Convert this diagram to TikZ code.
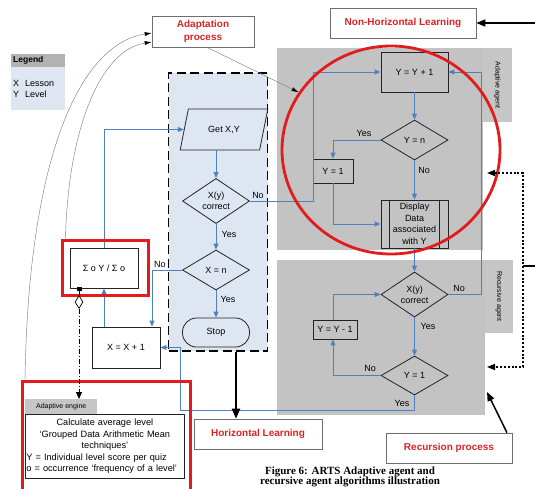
\documentclass[tikz,border=0pt]{standalone}
\usepackage{fontspec}
\setmainfont{Liberation Sans}
\newfontfamily\capfont{Liberation Serif}
\usetikzlibrary{arrows.meta,shapes.geometric,calc}

\definecolor{flowblue}{RGB}{79,129,189}
\definecolor{zonegray}{RGB}{195,195,195}
\definecolor{tabgray}{RGB}{198,198,198}
\definecolor{headgray}{RGB}{178,178,178}
\definecolor{paleblue}{RGB}{222,230,242}
\definecolor{hilite}{RGB}{226,28,28}
\definecolor{titlered}{RGB}{218,35,40}
\definecolor{edgegray}{RGB}{110,110,110}
\definecolor{ink}{RGB}{35,35,35}

\begin{document}
\begin{tikzpicture}[x=1pt,y=-1pt,
  font=\fontsize{9}{11}\selectfont,
  box/.style={draw=ink, line width=0.8pt, rectangle, inner sep=1pt, align=center},
  decision/.style={draw=ink, line width=0.8pt, diamond, inner sep=0pt,
    minimum width=67pt, minimum height=40pt, align=center},
  title/.style={draw=edgegray, fill=white, line width=0.6pt, text=titlered,
    inner sep=1pt, font=\fontsize{10}{13}\selectfont\bfseries, align=center},
  zone/.style={fill=zonegray, draw=none, rectangle, inner sep=0pt},
  tab/.style={fill=tabgray, draw=none, rectangle, inner sep=0pt,
    font=\fontsize{7}{8}\selectfont},
  flow/.style={draw=flowblue, line width=0.9pt, -{Triangle[length=6pt,width=5pt]}},
  lbl/.style={font=\fontsize{9}{10}\selectfont, inner sep=1pt},
  hilitebox/.style={draw=hilite, line width=3pt, rectangle, inner sep=0pt},
  faint/.style={draw=gray, line width=0.45pt, -{Latex[length=7pt,width=4pt,color=black]}},
  bold arrow/.style={draw=black, -{Triangle[length=9pt,width=7pt]}},
  linkdots/.style={draw=black, line width=1.5pt, dash pattern=on 2pt off 1.8pt,
    {Triangle[length=8pt,width=6pt]}-{Triangle[length=8pt,width=6pt]}}
]
\useasboundingbox (0,0) rectangle (535,488);

% agent zones with their side tabs
\node[zone, minimum width=206pt, minimum height=202pt] (adz) at (380,149) {};
\node[tab, rotate=-90, minimum width=74pt, minimum height=29pt] (adtab) at (497.5,85) {Adaptive agent};
\node[zone, minimum width=208pt, minimum height=155pt] (recz) at (381,337.5) {};
\node[tab, rotate=-90, minimum width=73pt, minimum height=28pt] (rectab) at (499,296.5) {Recursive agent};

% adaptation zone (dashed)
\node[draw=black, line width=1.8pt, dash pattern=on 9pt off 4.5pt, fill=paleblue,
  minimum width=99pt, minimum height=278pt, inner sep=0pt] (adzone) at (218,212) {};

% legend
\node[fill=headgray, anchor=north west, text width=50pt, inner xsep=2pt, inner ysep=0pt,
  minimum height=13pt, align=left, font=\fontsize{8.5}{9}\selectfont\bfseries] (leghead) at (11,54) {Legend};
\node[fill=paleblue, anchor=north west, text width=50pt, inner xsep=2pt, inner ysep=0pt,
  minimum height=43pt, align=left] (legbody) at (11,67) {X\ \ Lesson\\Y\ \ Level};

% titles
\node[title, minimum width=102pt, minimum height=31pt] (adapt) at (203,31.5) {Adaptation\\process};
\node[title, minimum width=146pt, minimum height=30pt] (nonh) at (403,23) {Non-Horizontal Learning};
\node[title, minimum width=128pt, minimum height=30pt] (horiz) at (258,434) {Horizontal Learning};
\node[title, minimum width=126pt, minimum height=30pt] (recur) at (449,448) {Recursion process};

% lesson loop
\node[draw=ink, line width=0.8pt, trapezium, trapezium left angle=64, trapezium right angle=116,
  trapezium stretches=true, minimum width=88pt, minimum height=41pt, inner sep=0pt] (getxy) at (224,129.5) {Get X,Y};
\node[decision] (xyc1) at (216,201) {X(y)\\correct};
\node[decision] (xn) at (216,270) {X = n};
\node[draw=ink, line width=0.8pt, rectangle, rounded corners=14pt, minimum width=67pt,
  minimum height=29pt] (stop) at (216,332.5) {Stop};
\node[box, fill=white, minimum width=68pt, minimum height=40pt] (sigma) at (104,268) {Σ o Y / Σ o};
\node[box, fill=white, minimum width=68pt, minimum height=41pt] (xinc) at (126,347.5) {X = X + 1};

% adaptive agent
\node[box, minimum width=67pt, minimum height=40pt] (yinc) at (414.5,72) {Y = Y + 1};
\node[decision] (yn) at (414.5,140) {Y = n};
\node[box, minimum width=40pt, minimum height=24pt] (y1box) at (333,171) {Y = 1};
\node[box, minimum width=67pt, minimum height=48pt, inner sep=0pt,
  font=\fontsize{9}{11.5}\selectfont] (disp) at (414.5,224) {Display\\Data\\associated\\with Y};
\draw[draw=ink, line width=0.8pt] ($(disp.north west)+(9,0)$) -- ($(disp.south west)+(9,0)$)
  ($(disp.north east)+(-9,0)$) -- ($(disp.south east)+(-9,0)$);

% recursive agent
\node[decision, minimum height=39pt] (xyc2) at (414.5,294.5) {X(y)\\correct};
\node[decision, minimum height=39pt] (y1dia) at (414.5,375.5) {Y = 1};
\node[box, minimum width=44pt, minimum height=19pt, inner sep=0pt] (ydec) at (335,329.5) {Y = Y - 1};

% adaptive engine
\node[fill=tabgray, anchor=north west, minimum width=72pt, minimum height=15pt, inner sep=0pt,
  font=\fontsize{7}{8}\selectfont] (enghead) at (25,399) {Adaptive engine};
\node[draw=ink, fill=white, line width=0.8pt, anchor=north west, text width=157pt,
  inner xsep=1pt, inner ysep=2pt, minimum height=64pt, align=left,
  font=\fontsize{9.2}{11.5}\selectfont] (engbody) at (25,414)
  {\centering Calculate average level\\ ‘Grouped Data Arithmetic Mean\\ techniques’\par
   \raggedright Y = Individual level score per quiz\\ \mbox{o = occurrence ‘frequency of a level’}};

% blue flow connectors
\draw[flow] (sigma.north) |- (getxy.west);
\draw[flow] (xyc1.north |- getxy.south) -- (xyc1.north);
\draw[flow] (xyc1.east) -- ++(64,0) |- (yinc.west);
\draw[flow] (xyc1.south) -- (xn.north);
\draw[flow] (xn.south) -- (stop.north);
\draw[flow] (xn.west) -| ([xshift=26pt]xinc.north);
\draw[flow] (sigma.south |- xinc.north) -- (sigma.south);
\draw[flow] (y1dia.south) |- (180,410) |- (xinc.east);
\draw[flow] (yinc.south) -- (yn.north);
\draw[flow] (yn.west) -| (y1box.north);
\draw[flow] (yn.south) -- (disp.north);
\draw[flow] (y1box.south) |- (disp.west);
\draw[flow] (disp.south) -- (xyc2.north);
\draw[flow] (xyc2.east) -- ++(33.5,0) |- (yinc.east);
\draw[flow] (xyc2.south) -- (y1dia.north);
\draw[flow] (y1dia.west) -| ([xshift=-2pt]ydec.south);
\draw[flow] ([xshift=-2pt]ydec.north) |- (xyc2.west);

% branch labels
\node[lbl] (l1) at (258,195) {No};
\node[lbl] (l2) at (229,234) {Yes};
\node[lbl] (l3) at (228,299) {Yes};
\node[lbl] (l4) at (160,264) {No};
\node[lbl] (l5) at (364,133) {Yes};
\node[lbl] (l6) at (424,170) {No};
\node[lbl] (l7) at (459,288) {No};
\node[lbl] (l8) at (428,326) {Yes};
\node[lbl] (l9) at (370,368) {No};
\node[lbl] (l10) at (402,403) {Yes};

% highlight frames
\node[hilitebox, minimum width=86pt, minimum height=55pt] (sigred) at (105,267.5) {};
\node[hilitebox, anchor=north west, minimum width=168pt, minimum height=125pt] (engred) at (21,380) {};
\node[draw=hilite, line width=2.8pt, ellipse, minimum width=218pt, minimum height=208pt,
  inner sep=0pt] (focus) at (391,150) {};

% aggregation link from the average box to the engine
\fill[black] (76.5,286.5) rectangle (81.5,291);
\draw[black, line width=0.8pt] (79,291) -- (79,296);
\node[draw=black, fill=white, line width=0.7pt, diamond, inner sep=0pt,
  minimum width=8pt, minimum height=13pt] (aggmark) at (79,302) {};
\draw[line width=0.8pt, dash pattern=on 5pt off 2pt on 1pt off 2pt,
  -{Triangle[length=7pt,width=6pt]}]
  (aggmark.south) -- (aggmark.south |- enghead.north);

% process arrows
\draw[bold arrow, line width=2pt, -{Triangle[length=10pt,width=8pt]}]
  ([xshift=18pt]adzone.south) -- ([xshift=18pt]adzone.south |- horiz.north);
\coordinate (nhsrc) at (535,23);
\draw[bold arrow, line width=1.5pt] (nhsrc) -- (nonh.east);
\coordinate (rectarget) at (487,392);
\draw[bold arrow, line width=1.5pt] ([xshift=58pt]recur.north) -- (rectarget);
\coordinate (brtop) at (487,173);
\coordinate (brbot) at (487,367);
\coordinate (brjoin) at (523,266);
\coordinate (brin) at (535,266);
\draw[linkdots] (brtop) -- (523,173) -- (523,367) -- (brbot);
\draw[line width=1.2pt] (brin) -- (brjoin);

% faint links to the adaptation title
\draw[faint] ([xshift=4pt]engred.north west) .. controls (28,170) and (75,45) .. ([yshift=-1.5pt]adapt.west);
\draw[faint] ([xshift=5pt]sigred.north west) .. controls (68,130) and (100,50) .. ([yshift=-10.5pt]adapt.west);
\draw[faint] ([xshift=4pt]adapt.south) -- (focus.148);

% caption
\node[font=\capfont\bfseries\fontsize{11}{10.5}\selectfont, align=center] (caption) at (350,477)
  {Figure 6: ARTS Adaptive agent and\\recursive agent algorithms illustration};
\end{tikzpicture}
\end{document}
